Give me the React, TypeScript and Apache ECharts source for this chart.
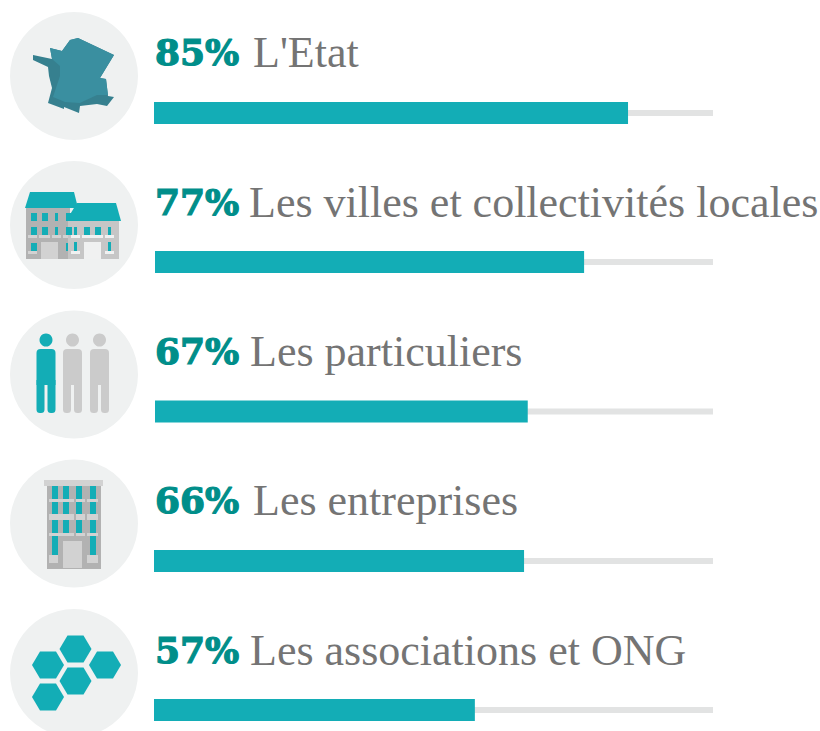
import React, { useEffect, useRef } from "react";
import * as echarts from "echarts";

const categories = ["L'Etat", "Les villes et collectivités locales", "Les particuliers", "Les entreprises", "Les associations et ONG"];
const shares = [85, 77, 67, 66, 57];
const barLengths = [84.8, 76.9, 66.8, 66.2, 57.4];
const trackMax = 100;

const ROW_TOP = [0, 149, 298.5, 448, 597];
const BAR_LEFT = [154, 155, 155, 154, 154];
const LABEL_X = [253, 249, 250, 253, 250];
const CIRCLE_CY = [76, 225, 374.5, 523.5, 673];
const TEXT_Y = [52, 202, 351, 500, 650];

const TEAL = "#13adb6";
const TRACK = "#e2e3e3";
const GREY_D = "#b2b2b2";
const GREY_M = "#c6c6c6";
const GREY_L = "#d2d2d2";

const R = (x: number, y: number, w: number, h: number, fill: string, r: any = 0) => ({
  type: "rect", shape: { x, y, width: w, height: h, r }, style: { fill }, silent: true,
});
const P = (pts: number[][], fill: string) => ({ type: "polygon", shape: { points: pts }, style: { fill }, silent: true });

function france(cy: number) {
  const o = cy - 76;
  const m = (a: number[][]) => a.map(([x, y]) => [x, y + o]);
  return [
    P(m([[33, 55], [52, 59], [50, 48], [62, 51], [70, 40], [78, 38], [114, 55], [100, 78], [106, 79], [108, 96], [114, 97], [107, 106], [97, 104], [80, 106], [79, 113], [64, 107], [64, 109], [48, 103], [52, 88], [49, 76], [48, 67], [33, 60]]), "#36808f"),
    P(m([[50, 48], [62, 51], [70, 40], [78, 38], [114, 55], [100, 78], [106, 79], [108, 95], [97, 95], [84, 101], [80, 103], [65, 102], [53, 97], [60, 76], [60, 66], [52, 59]]), "#3a8fa0"),
  ];
}

function townhall(cy: number) {
  const o = cy - 225 + 150;
  const y = (v: number) => v + o;
  const out: any[] = [];
  out.push(R(26, y(58), 44, 51, GREY_D), R(41, y(92), 17, 17, GREY_L));
  out.push(R(68, y(70), 51, 39, GREY_M), R(84, y(92), 17, 17, "#f0f1f1"));
  out.push(P([[25, y(58)], [30, y(42)], [74, y(42)], [78, y(58)]], TEAL));
  out.push(P([[66, y(71)], [77, y(53)], [116, y(53)], [121, y(71)]], TEAL));
  [31, 42, 55, 66].forEach((x) => out.push(R(x, y(63), x === 55 ? 3 : 6, 8, TEAL), R(x, y(77), x === 55 ? 3 : 6, 8, TEAL)));
  [74, 84, 95, 108].forEach((x) => out.push(R(x, y(77), x === 84 || x === 95 ? 6 : 3, 8, TEAL)));
  out.push(R(31, y(93), 6, 8, TEAL), R(66, y(93), 2, 8, TEAL), R(74, y(92), 3, 9, TEAL), R(108, y(92), 3, 9, TEAL));
  [[28, 9], [39, 11], [52, 9], [63, 5]].forEach(([x, w]) => out.push(R(x, y(85), w, 3, GREY_L)));
  [[71, 9], [82, 21], [105, 9]].forEach(([x, w]) => out.push(R(x, y(85), w, 3, "#f0f1f1")));
  out.push(R(28, y(101), 9, 3, GREY_L), R(71, y(101), 9, 3, "#f0f1f1"), R(105, y(101), 9, 3, "#f0f1f1"));
  return out;
}

function people(cy: number) {
  const o = cy - 374.5;
  const person = (x: number, fill: string) => {
    const yy = (v: number) => v + o;
    return [
      { type: "circle", shape: { cx: x + 9.5, cy: yy(340), r: 6.5 }, style: { fill }, silent: true },
      R(x, yy(349), 19, 36, fill, [4, 4, 0, 0]),
      R(x, yy(380), 8, 33, fill, [0, 0, 3.5, 3.5]),
      R(x + 11, yy(380), 8, 33, fill, [0, 0, 3.5, 3.5]),
    ];
  };
  return [...person(36.5, TEAL), ...person(63, "#cbcbcb"), ...person(90, "#cbcbcb")];
}

function office(cy: number) {
  const o = cy - 523.5 + 450;
  const y = (v: number) => v + o;
  const out: any[] = [R(47, y(33), 54, 86, GREY_D), R(44, y(30), 59, 6, GREY_L)];
  [52, 63, 76, 90].forEach((x) => {
    [[36, 13], [52, 13], [70, 13], [86, 19]].forEach(([t, h], i) => {
      if (i === 3 && (x === 63 || x === 76)) return;
      out.push(R(x, y(t), 6, h, TEAL));
    });
  });
  [[49, 11], [60, 14], [76, 9], [87, 11]].forEach(([x, w]) => {
    out.push(R(x, y(49), w, 3, GREY_L), R(x, y(64), w, 6, GREY_L), R(x, y(83), w, 3, GREY_L));
  });
  out.push(R(49, y(105), 9, 8, GREY_L), R(87, y(105), 11, 8, GREY_L), R(63, y(91), 19, 27, GREY_L));
  return out;
}

function hexes(cy: number) {
  const o = cy - 673;
  const hex = (cx: number, c: number) =>
    P([[cx - 16, c], [cx - 8, c - 13.5], [cx + 8, c - 13.5], [cx + 16, c], [cx + 8, c + 13.5], [cx - 8, c + 13.5]], TEAL);
  return [hex(75.5, 649 + o), hex(48, 665 + o), hex(105, 665 + o), hex(75.5, 681 + o), hex(48, 697 + o)];
}

const ICONS = [france, townhall, people, office, hexes];

export default function App() {
  const ref = useRef<HTMLDivElement>(null);
  useEffect(() => {
    document.body.style.margin = "0";
    const chart = echarts.init(ref.current!, null, { renderer: "svg" });
    const graphic: any[] = [];
    categories.forEach((name, i) => {
      graphic.push({ type: "circle", shape: { cx: 74, cy: CIRCLE_CY[i], r: 64 }, style: { fill: "#eff1f1" }, silent: true });
      graphic.push(...ICONS[i](CIRCLE_CY[i]));
      graphic.push({
        type: "text", x: 155, y: TEXT_Y[i],
        style: { text: `${shares[i]}%`, fill: "#008e8a", stroke: "#008e8a", lineWidth: 1.2, font: 'bold 36px "DejaVu Serif"', verticalAlign: "middle", align: "left" },
      });
      graphic.push({
        type: "text", x: LABEL_X[i], y: TEXT_Y[i],
        style: { text: name, fill: "#747474", font: '44px "Liberation Serif"', verticalAlign: "middle", align: "left" },
      });
    });
    // Each row: a thin 6px track grid and a 22px bar grid, sharing the same 0-100 scale.
    const grids: any[] = [], xs: any[] = [], ys: any[] = [], series: any[] = [];
    categories.forEach((c, i) => {
      const left = BAR_LEFT[i], width = 713 - left;
      [
        { top: ROW_TOP[i] + 110, height: 6, value: trackMax, color: TRACK },
        { top: ROW_TOP[i] + 102, height: 22, value: barLengths[i], color: TEAL },
      ].forEach((row) => {
        const idx = grids.length;
        grids.push({ left, width, top: row.top, height: row.height });
        xs.push({ type: "value", gridIndex: idx, min: 0, max: trackMax, show: false });
        ys.push({ type: "category", gridIndex: idx, data: [c], show: false });
        series.push({ type: "bar", xAxisIndex: idx, yAxisIndex: idx, data: [row.value], barWidth: row.height, itemStyle: { color: row.color }, silent: true });
      });
    });
    chart.setOption({ animation: false, grid: grids, xAxis: xs, yAxis: ys, series, graphic });
    return () => chart.dispose();
  }, []);
  return <div ref={ref} style={{ width: 820, height: 731 }} />;
}
